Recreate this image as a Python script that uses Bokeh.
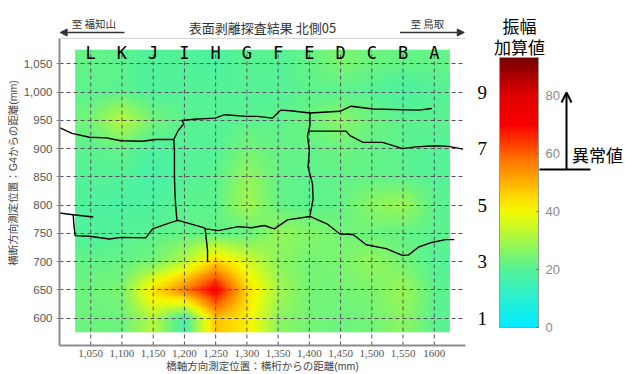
import numpy as np
from bokeh.plotting import figure
from bokeh.models import (Range1d, LinearAxis, FixedTicker, LinearColorMapper, ColorBar,
                          Arrow, NormalHead, OpenHead, Span, Label)
from bokeh.layouts import row
from bokeh.core.properties import value
from bokeh.embed import file_html
from bokeh.resources import INLINE

# ---------------- data ----------------
x_pos = [1050, 1100, 1150, 1200, 1250, 1300, 1350, 1400, 1450, 1500, 1550, 1600]
x_tick_labels = ["1,050", "1,100", "1,150", "1,200", "1,250", "1,300", "1,350",
                 "1,400", "1,450", "1,500", "1,550", "1600"]
col_labels = ["L", "K", "J", "I", "H", "G", "F", "E", "D", "C", "B", "A"]
y_pos = [600, 650, 700, 750, 800, 850, 900, 950, 1000, 1050]
y_tick_labels = ["600", "650", "700", "750", "800", "850", "900", "950", "1,000", "1,050"]
right_ticks = [600, 700, 800, 900, 1000]
right_labels = ["1", "3", "5", "7", "9"]

# amplitude sum values, one list per row (y = 600 ... 1050), columns x = 1050 ... 1600
amp_600 = [23, 23, 32, 17, 48, 42, 27, 24, 23, 24, 27, 21]
amp_650 = [23, 25, 44, 57, 72, 45, 30, 24, 24, 25, 29, 21]
amp_700 = [22, 22, 24, 32, 46, 36, 27, 24, 25, 28, 24, 20]
amp_750 = [19, 20, 21, 22, 22, 22, 28, 26, 24, 23, 22, 21]
amp_800 = [19, 18, 19, 21, 21, 30, 22, 21, 22, 27, 29, 21]
amp_850 = [20, 20, 17, 20, 21, 28, 22, 21, 22, 22, 21, 20]
amp_900 = [21, 22, 19, 20, 20, 24, 22, 22, 23, 22, 21, 20]
amp_950 = [24, 33, 24, 21, 20, 21, 21, 23, 27, 23, 21, 21]
amp_1000 = [21, 21, 19, 20, 20, 20, 20, 21, 21, 20, 18, 20]
amp_1050 = [22, 21, 19, 20, 18, 21, 20, 22, 25, 23, 22, 22]

# crack traces (x mm, y mm)
crack_upper_left_x = [1000, 1020, 1048, 1075, 1098, 1133, 1154, 1183]
crack_upper_left_y = [937, 927, 920, 919, 914, 913, 916, 916]
crack_upper_x = [1188, 1186, 1185, 1184, 1184, 1184, 1183, 1190, 1199, 1196, 1215, 1249, 1265,
                 1299, 1317, 1341, 1354, 1370, 1401, 1449, 1467, 1502, 1575, 1596]
crack_upper_y = [773, 800, 817, 850, 880, 897, 916, 932, 944, 950, 952, 954, 960,
                 957, 957, 954, 968, 967, 963, 966, 975, 970, 968, 971]
crack_e_x = [1401, 1401, 1397, 1400, 1398, 1405, 1406, 1401]
crack_e_y = [963, 941, 923, 897, 867, 838, 810, 782]
crack_e_branch_x = [1398, 1459, 1465, 1486, 1517, 1538, 1549, 1570, 1602, 1623, 1646]
crack_e_branch_y = [931, 931, 923, 911, 911, 904, 900, 903, 905, 904, 899]
crack_stub_x = [1000, 1022, 1054]
crack_stub_y = [786, 783, 779]
crack_lower_x = [1022, 1023, 1025, 1048, 1080, 1099, 1138, 1149, 1180, 1190, 1228, 1235, 1254,
                 1286, 1307, 1328, 1344, 1365, 1401, 1428, 1449, 1470, 1491, 1523, 1549, 1559,
                 1575, 1596, 1618, 1632]
crack_lower_y = [783, 765, 746, 745, 740, 743, 742, 758, 770, 773, 761, 758, 755,
                 762, 760, 764, 758, 774, 780, 767, 749, 748, 730, 723, 711, 712,
                 726, 734, 739, 739]
crack_h_x = [1233, 1235, 1237, 1237]
crack_h_y = [760, 740, 720, 699]

# ---------------- colour map ----------------
anchors = [(0, (0, 235, 255)), (10, (40, 240, 210)), (20, (85, 242, 150)), (27, (140, 246, 95)),
           (33, (190, 250, 50)), (40, (245, 250, 0)), (46, (255, 210, 0)), (52, (255, 160, 0)),
           (58, (255, 115, 0)), (64, (255, 55, 0)), (70, (250, 0, 0)), (80, (225, 0, 0)),
           (87, (170, 0, 0)), (93, (115, 0, 0))]
a_v = np.array([a[0] for a in anchors], float)
a_c = np.array([a[1] for a in anchors], float)
vv = np.linspace(0, 93, 256)
palette = ["#%02x%02x%02x" % tuple(int(round(np.interp(v, a_v, a_c[:, k]))) for k in range(3)) for v in vv]
mapper = LinearColorMapper(palette=palette, low=0, high=93)

grid = np.array([amp_600, amp_650, amp_700, amp_750, amp_800, amp_850,
                 amp_900, amp_950, amp_1000, amp_1050], dtype=float)

# smooth display of the measured grid (bilinear shading between measurement points)
x0, x1 = x_pos[0] - 25, x_pos[-1] + 25
y0, y1 = y_pos[0] - 25, y_pos[-1] + 25
res = 4.0
fx = np.arange(x0 + res / 2, x1, res)
fy = np.arange(y0 + res / 2, y1, res)
tmp = np.array([np.interp(fx, x_pos, r) for r in grid])
shade = np.array([np.interp(fy, y_pos, tmp[:, j]) for j in range(tmp.shape[1])]).T

# ---------------- main figure ----------------
GRID_COLOR = "#5c5060"
p = figure(width=490, height=374, x_range=Range1d(1000, 1650), y_range=Range1d(551.7, 1162),
           output_backend="svg", toolbar_location=None,
           min_border_left=59, min_border_right=20, min_border_top=0, min_border_bottom=29)
p.outline_line_color = None
p.background_fill_color = "white"

p.image(image=[shade], x=x0, y=y0, dw=x1 - x0, dh=y1 - y0, color_mapper=mapper, level="image")

p.xgrid.visible = False
p.ygrid.ticker = FixedTicker(ticks=y_pos)
p.ygrid.grid_line_color = GRID_COLOR
p.ygrid.grid_line_dash = "4 3"
p.ygrid.grid_line_width = 1

p.segment(x0=x_pos, y0=[551.7] * len(x_pos), x1=x_pos, y1=[1073] * len(x_pos),
          line_color=GRID_COLOR, line_dash="4 3", line_width=1)

for xs, ys in [(crack_upper_left_x, crack_upper_left_y), (crack_upper_x, crack_upper_y),
               (crack_e_x, crack_e_y), (crack_e_branch_x, crack_e_branch_y),
               (crack_stub_x, crack_stub_y), (crack_lower_x, crack_lower_y),
               (crack_h_x, crack_h_y)]:
    p.line(xs, ys, line_color="black", line_width=1.4)

p.text(x=x_pos, y=[1069] * len(x_pos), text=col_labels, text_font=value("DejaVu Sans Mono"),
       text_font_size="17px", text_align="center", text_baseline="middle", text_color="black")

# axes
xa = p.xaxis[0]
xa.ticker = FixedTicker(ticks=x_pos)
xa.major_label_overrides = dict(zip(x_pos, x_tick_labels))
xa.axis_line_color = "#8c8c8c"
xa.axis_line_width = 2
xa.major_tick_out = 0
xa.major_tick_in = 0
xa.minor_tick_line_color = None
xa.major_label_text_font = "Liberation Sans Narrow"
xa.major_label_text_font_size = "11px"
xa.major_label_text_color = "#555555"
xa.major_label_standoff = 4
xa.axis_label = "橋軸方向測定位置：横桁からの距離(mm)"
xa.axis_label_text_font = "Liberation Sans, Noto Sans CJK JP"
xa.axis_label_text_font_size = "10.5px"
xa.axis_label_text_font_style = "normal"
xa.axis_label_text_color = "#444444"
xa.axis_label_standoff = 0

ya = p.yaxis[0]
ya.ticker = FixedTicker(ticks=y_pos)
ya.major_label_overrides = dict(zip(y_pos, y_tick_labels))
ya.bounds = (551.7, 1095)
ya.axis_line_color = "#8c8c8c"
ya.axis_line_width = 2
ya.major_tick_out = 3
ya.major_tick_in = 0
ya.major_tick_line_color = "#8c8c8c"
ya.minor_tick_line_color = None
ya.major_label_text_font = "Liberation Sans"
ya.major_label_text_font_size = "11.5px"
ya.major_label_text_color = "#555555"
ya.major_label_standoff = 4
ya.axis_label = "横断方向測定位置：G4からの距離(mm)"
ya.axis_label_text_font = "Liberation Sans, Noto Sans CJK JP"
ya.axis_label_text_font_size = "10.5px"
ya.axis_label_text_font_style = "normal"
ya.axis_label_text_color = "#444444"
ya.axis_label_standoff = 2

ra = LinearAxis(ticker=FixedTicker(ticks=right_ticks),
                major_label_overrides=dict(zip(right_ticks, right_labels)),
                axis_line_color=None, major_tick_line_color=None, minor_tick_line_color=None,
                major_label_text_font="Liberation Sans Narrow", major_label_text_font_size="19px",
                major_label_text_color="black", major_label_standoff=6)
p.add_layout(ra, "right")

p.add_layout(Span(location=1095, dimension="width", line_color="#cfcfcf", line_width=1))

p.add_layout(Label(x=1325, y=1115, text="表面剥離探査結果 北側05", text_font="Noto Sans CJK JP",
                   text_font_size="13px", text_align="center", text_baseline="middle",
                   text_color="#333333"))
p.add_layout(Label(x=1055, y=1121, text="至 福知山", text_font="Noto Sans CJK JP",
                   text_font_size="10.5px", text_align="center", text_baseline="middle",
                   text_color="#333333"))
p.add_layout(Label(x=1589, y=1121, text="至 鳥取", text_font="Noto Sans CJK JP",
                   text_font_size="10.5px", text_align="center", text_baseline="middle",
                   text_color="#333333"))
p.add_layout(Arrow(end=NormalHead(size=7, fill_color="#333333", line_color="#333333"),
                   x_start=1104, y_start=1105.4, x_end=1001, y_end=1105.4,
                   line_color="#333333", line_width=1.5))
p.add_layout(Arrow(end=NormalHead(size=7, fill_color="#333333", line_color="#333333"),
                   x_start=1545, y_start=1105.4, x_end=1648, y_end=1105.4,
                   line_color="#333333", line_width=1.5))

# ---------------- colour bar figure ----------------
c = figure(width=135, height=374, x_range=Range1d(490, 625), y_range=Range1d(345, 0),
           output_backend="svg", toolbar_location=None, x_axis_location=None,
           y_axis_location=None, min_border_left=0, min_border_right=0,
           min_border_top=0, min_border_bottom=29)
c.outline_line_color = None
c.xgrid.visible = False
c.ygrid.visible = False

cb = ColorBar(color_mapper=mapper, location=(9, 18), width=39, height=270, padding=0, margin=0,
              ticker=FixedTicker(ticks=[0, 20, 40, 60, 80]), major_label_text_color="#8a8a8a",
              major_label_text_font="Liberation Sans", major_label_text_font_size="13px",
              label_standoff=7, major_tick_in=2, major_tick_out=0,
              major_tick_line_color="#6a5a3a", minor_tick_line_color=None,
              bar_line_color="#8fa08f", border_line_color=None, background_fill_alpha=0)
c.add_layout(cb, "center")

c.add_layout(Label(x=519, y=25, text="振幅", text_font="Noto Sans CJK JP", text_font_size="17px",
                   text_align="center", text_baseline="middle", text_color="black"))
c.add_layout(Label(x=519, y=46, text="加算値", text_font="Noto Sans CJK JP", text_font_size="17px",
                   text_align="center", text_baseline="middle", text_color="black"))
c.add_layout(Label(x=597, y=154, text="異常値", text_font="Noto Sans CJK JP", text_font_size="17px",
                   text_align="center", text_baseline="middle", text_color="black"))
c.add_layout(Arrow(end=OpenHead(size=10, line_width=2, line_color="black"),
                   x_start=566, y_start=169, x_end=566, y_end=92, line_width=2, line_color="black"))
c.segment(x0=[539], y0=[169], x1=[590], y1=[169], line_color="black", line_width=2)

layout = row(p, c)
open("out.html", "w").write(file_html(layout, INLINE))
